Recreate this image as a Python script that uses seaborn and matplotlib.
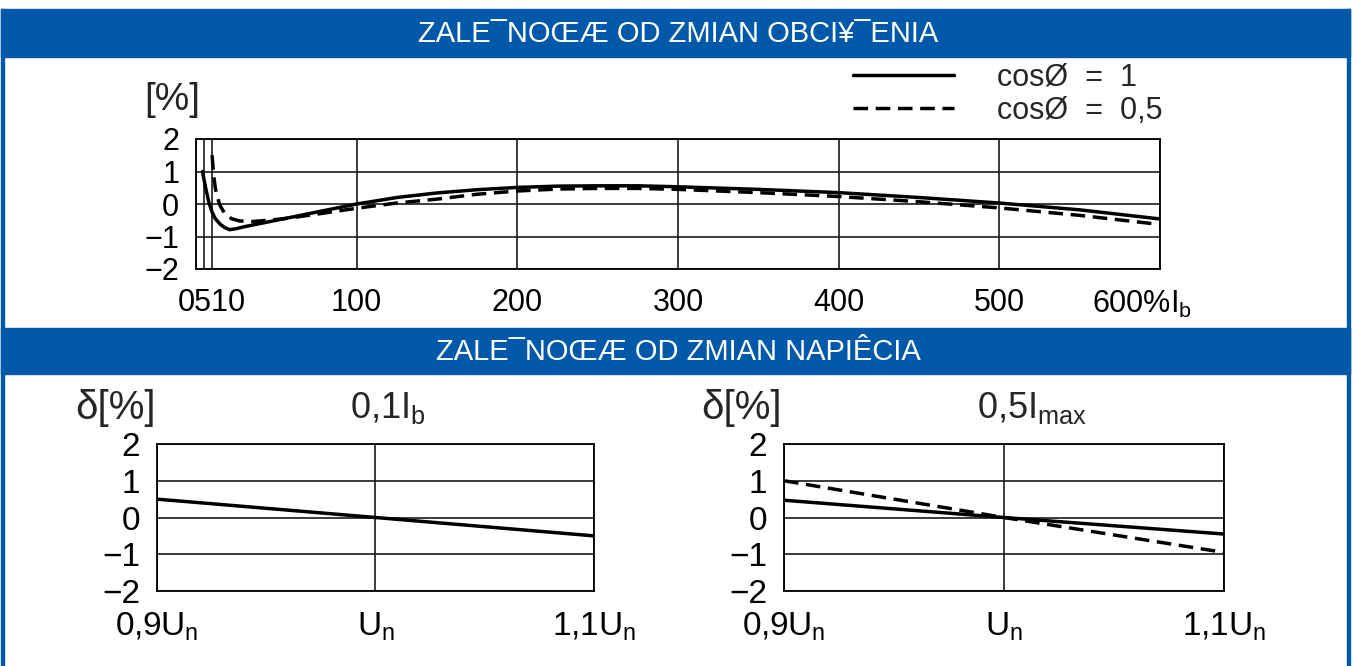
import matplotlib
matplotlib.use("Agg")
import matplotlib.pyplot as plt
import matplotlib.transforms as mtrans
import pandas as pd
import seaborn as sns

# --- data ------------------------------------------------------------------
# load dependence, x in % of Ib
load_cos1 = [4, 5, 6, 8, 10, 12, 15, 18, 21, 25, 30, 40, 50, 60, 80, 100, 125,
             150, 175, 200, 225, 250, 275, 300, 350, 400, 450, 500, 550, 600]
err_cos1 = [1.0, 0.75, 0.5, 0.05, -0.25, -0.45, -0.62, -0.73, -0.79, -0.76,
            -0.7, -0.6, -0.5, -0.4, -0.2, 0.0, 0.2, 0.34, 0.44, 0.51, 0.55,
            0.56, 0.56, 0.53, 0.45, 0.35, 0.2, 0.03, -0.18, -0.46]
load_cos05 = [10, 11, 12, 13, 15, 18, 22, 27, 35, 45, 55, 70, 100, 125, 150,
              175, 200, 225, 250, 275, 300, 350, 400, 450, 500, 550, 600]
err_cos05 = [1.5, 0.9, 0.5, 0.25, -0.05, -0.3, -0.45, -0.52, -0.54, -0.5,
             -0.45, -0.35, -0.13, 0.03, 0.15, 0.3, 0.4, 0.46, 0.48, 0.48, 0.45,
             0.35, 0.23, 0.07, -0.12, -0.35, -0.63]
load_ticks = [0, 5, 10, 100, 200, 300, 400, 500, 600]
load_ticklabels = ["", "", "0510", "100", "200", "300", "400", "500",
                   "600%I$_\\mathregular{b}$"]

# voltage dependence
u_vals = [0.9, 1.0, 1.1]
u_ticklabels = ["0,9U$_\\mathregular{n}$", "U$_\\mathregular{n}$",
                "1,1U$_\\mathregular{n}$"]
err_01ib = [0.5, 0.0, -0.5]
err_05imax_cos1 = [0.47, 0.0, -0.45]
err_05imax_cos05 = [1.0, 0.0, -0.95]

pct_ticks = [-2, -1, 0, 1, 2]

# --- style -------------------------------------------------------------------
sns.set_style("white")
plt.rcParams["font.family"] = ["Liberation Sans", "DejaVu Sans"]

W, H = 1353, 666
BLUE = "#0059a8"
DASH = (0, (4.2, 2.2))
LW = 2.5

fig = plt.figure(figsize=(W / 100, H / 100), dpi=100, facecolor="white")


def fx(px):
    return px / W


def fy(py):
    return 1 - py / H


# frame and title bands
fig.add_artist(plt.Rectangle((fx(1), 0), fx(3), fy(9), transform=fig.transFigure,
                             color=BLUE, zorder=0))
fig.add_artist(plt.Rectangle((fx(1347), 0), fx(3), fy(9), transform=fig.transFigure,
                             color=BLUE, zorder=0))
fig.add_artist(plt.Rectangle((fx(1), fy(57)), fx(1349), fy(9) - fy(57),
                             transform=fig.transFigure, color=BLUE, zorder=0))
fig.add_artist(plt.Rectangle((fx(1), fy(374)), fx(1349), fy(328) - fy(374),
                             transform=fig.transFigure, color=BLUE, zorder=0))
fig.text(fx(678), fy(34), "ZALE¯NOŒÆ OD ZMIAN OBCI¥¯ENIA", color="white",
         fontsize=21, ha="center", va="center")
fig.text(fx(678), fy(352), "ZALE¯NOŒÆ OD ZMIAN NAPIÊCIA", color="white",
         fontsize=21, ha="center", va="center")


def style_axes(ax, size):
    for s in ax.spines.values():
        s.set_visible(True)
        s.set_color("black")
        s.set_linewidth(1.3)
    ax.grid(True, color="#1a1a1a", lw=1.2)
    ax.set_axisbelow(True)
    ax.set_ylim(-2, 2)
    ax.set_yticks(pct_ticks)
    ax.tick_params(length=0, labelsize=size, colors="black")
    ax.tick_params(axis="x", pad=14)
    ax.tick_params(axis="y", pad=12)
    ax.set_xlabel("")
    ax.set_ylabel("")


# --- top chart: load dependence --------------------------------------------
ax1 = fig.add_axes([fx(196), fy(269), fx(1160) - fx(196), fy(139) - fy(269)])
sns.lineplot(x=load_cos1, y=err_cos1, color="black", lw=LW, ax=ax1,
             estimator=None, sort=False)
sns.lineplot(x=load_cos05, y=err_cos05, color="black", lw=LW, ls=DASH, ax=ax1,
             estimator=None, sort=False)
style_axes(ax1, 22)
ax1.set_xlim(0, 600)
ax1.set_xticks(load_ticks)
ax1.set_xticklabels(load_ticklabels)
lab600 = ax1.get_xticklabels()[-1]
lab600.set_transform(lab600.get_transform() +
                     mtrans.ScaledTranslation(-0.18, 0, fig.dpi_scale_trans))
ax1.legend(handles=ax1.lines[:2], labels=["cosØ  =  1", "cosØ  =  0,5"],
           loc="center left", bbox_to_anchor=(fx(853), fy(94.5)),
           bbox_transform=fig.transFigure, frameon=False, fontsize=22,
           handlelength=3.3, handletextpad=1.4, labelspacing=0.1,
           borderpad=0, borderaxespad=0)
fig.text(fx(172), fy(100), "[%]", fontsize=28, ha="center", va="center")

# --- bottom charts: voltage dependence -------------------------------------
ax2 = fig.add_axes([fx(157), fy(591), fx(594) - fx(157), fy(444) - fy(591)])
sns.lineplot(x=u_vals, y=err_01ib, color="black", lw=LW, ax=ax2)
style_axes(ax2, 24)
ax2.set_xlim(0.9, 1.1)
ax2.set_xticks(u_vals)
ax2.set_xticklabels(u_ticklabels)

ax3 = fig.add_axes([fx(784), fy(591), fx(1224) - fx(784), fy(444) - fy(591)])
sns.lineplot(x=u_vals, y=err_05imax_cos1, color="black", lw=LW, ax=ax3)
sns.lineplot(x=u_vals, y=err_05imax_cos05, color="black", lw=LW, ls=DASH, ax=ax3)
style_axes(ax3, 24)
ax3.set_xlim(0.9, 1.1)
ax3.set_xticks(u_vals)
ax3.set_xticklabels(u_ticklabels)

fig.text(fx(156), fy(408), "δ[%]", fontsize=29, ha="right", va="center")
fig.text(fx(388), fy(408), "0,1I$_\\mathregular{b}$", fontsize=26,
         ha="center", va="center")
fig.text(fx(782), fy(408), "δ[%]", fontsize=29, ha="right", va="center")
fig.text(fx(1032), fy(408), "0,5I$_\\mathregular{max}$", fontsize=26,
         ha="center", va="center")

fig.savefig("out.png", dpi=100, facecolor="white")
